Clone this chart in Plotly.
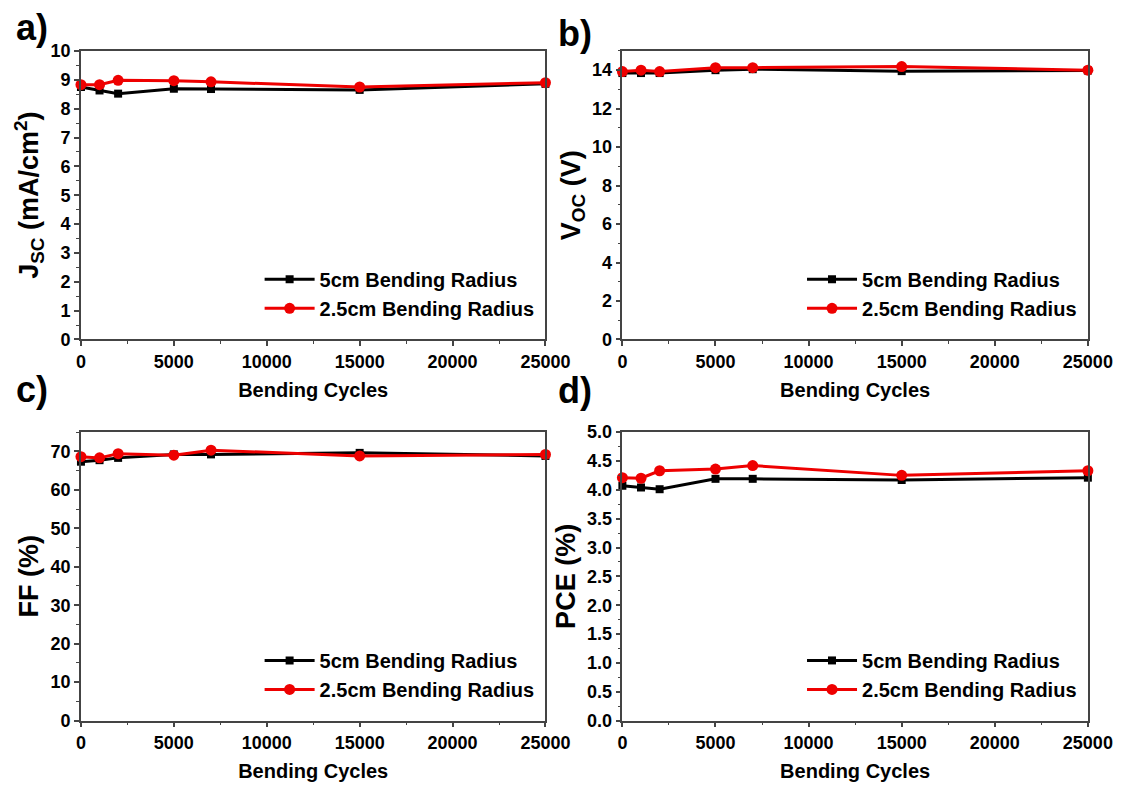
import plotly.graph_objects as go

cycles = [0, 1000, 2000, 5000, 7000, 15000, 25000]

jsc_5cm = [8.75, 8.63, 8.52, 8.69, 8.68, 8.65, 8.86]
jsc_25cm = [8.83, 8.83, 8.98, 8.97, 8.93, 8.75, 8.90]

voc_5cm = [13.85, 13.85, 13.85, 14.00, 14.05, 13.95, 13.98]
voc_25cm = [13.93, 14.00, 13.93, 14.13, 14.13, 14.19, 14.00]

ff_5cm = [67.3, 67.7, 68.3, 69.2, 69.2, 69.6, 68.8]
ff_25cm = [68.6, 68.3, 69.4, 69.0, 70.3, 68.8, 69.2]

pce_5cm = [4.07, 4.04, 4.01, 4.19, 4.19, 4.17, 4.21]
pce_25cm = [4.21, 4.20, 4.33, 4.36, 4.42, 4.25, 4.33]

series_names = ["5cm Bending Radius", "2.5cm Bending Radius"]
panel_labels = ["a)", "b)", "c)", "d)"]
y_titles = ["J<sub>SC</sub> (mA/cm<sup>2</sup>)", "V<sub>OC</sub> (V)", "FF (%)", "PCE (%)"]
x_title = "Bending Cycles"

y_ranges = [[0, 10], [0, 15], [0, 75], [0, 5]]
y_dticks = [1, 2, 10, 0.5]
y_formats = ["d", "d", "d", ".1f"]

W, H = 1145, 794
FONT = "Liberation Sans"

# pixel boxes of plot areas: (left, right, top, bottom)
boxes = [(78, 555, 42, 338), (634, 1112, 42, 338), (78, 555, 433, 729), (634, 1112, 433, 729)]
label_pos = [(9, 18), (566, 24), (9, 389), (566, 390)]

data = [(jsc_5cm, jsc_25cm), (voc_5cm, voc_25cm), (ff_5cm, ff_25cm), (pce_5cm, pce_25cm)]

fig = go.Figure()
layout = dict(
    width=W, height=H,
    margin=dict(l=0, r=0, t=0, b=0),
    paper_bgcolor="white", plot_bgcolor="white",
    font=dict(family=FONT, color="black", size=18),
    annotations=[],
)

for i in range(4):
    left, right, top, bottom = boxes[i]
    xa = "x" if i == 0 else f"x{i+1}"
    ya = "y" if i == 0 else f"y{i+1}"
    leg = "legend" if i == 0 else f"legend{i+1}"
    s5, s25 = data[i]
    fig.add_trace(go.Scatter(
        x=cycles, y=s5, name=series_names[0], mode="lines+markers",
        line=dict(color="black", width=3),
        marker=dict(symbol="square", size=8, color="black"),
        xaxis=xa, yaxis=ya, legend=leg, cliponaxis=False,
    ))
    fig.add_trace(go.Scatter(
        x=cycles, y=s25, name=series_names[1], mode="lines+markers",
        line=dict(color="#ee0000", width=3),
        marker=dict(symbol="circle", size=11, color="#ee0000"),
        xaxis=xa, yaxis=ya, legend=leg, cliponaxis=False,
    ))
    axis_common = dict(
        showline=True, linecolor="#444", linewidth=1.5, mirror=True,
        ticks="outside", ticklen=5, tickwidth=1.5, tickcolor="#444",
        showgrid=False, zeroline=False,
        tickfont=dict(family=FONT, size=18, color="black", weight="bold"),
    )
    xkey = "xaxis" if i == 0 else f"xaxis{i+1}"
    ykey = "yaxis" if i == 0 else f"yaxis{i+1}"
    layout[xkey] = dict(
        axis_common,
        domain=[left / W, right / W], anchor=ya,
        range=[0, 25000], dtick=5000, tick0=0, tickformat="d",
        minor=dict(ticks="outside", ticklen=3, tickwidth=1.2, tickcolor="#444", dtick=2500),
        title=dict(text=x_title, font=dict(family=FONT, size=20, weight="bold"), standoff=12),
    )
    layout[ykey] = dict(
        axis_common,
        domain=[1 - bottom / H, 1 - top / H], anchor=xa,
        range=y_ranges[i], dtick=y_dticks[i], tick0=0, tickformat=y_formats[i],
        minor=dict(ticks="outside", ticklen=3, tickwidth=1.2, tickcolor="#444", dtick=y_dticks[i] / 2),
        title=dict(text=y_titles[i], font=dict(family=FONT, size=27, weight="bold"), standoff=4),
    )
    layout[leg] = dict(
        x=(right - 6) / W, xanchor="right",
        y=1 - (bottom - 12) / H, yanchor="bottom",
        bgcolor="rgba(0,0,0,0)", borderwidth=0,
        font=dict(family=FONT, size=20, color="black", weight="bold"),
        itemwidth=50, tracegroupgap=0,
    )
    lx, ly = label_pos[i]
    layout["annotations"].append(dict(
        text=panel_labels[i], xref="paper", yref="paper",
        x=lx / W, y=1 - ly / H, xanchor="left", yanchor="middle",
        showarrow=False, font=dict(family=FONT, size=36, color="black", weight="bold"),
    ))

fig.update_layout(**layout)
fig.write_html(
    "out.html",
    post_script="document.body.style.margin='0';document.body.style.padding='0';",
)
